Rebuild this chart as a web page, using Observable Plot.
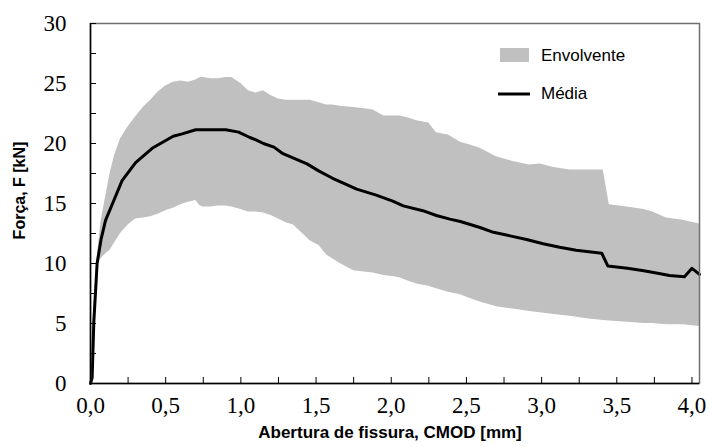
<!DOCTYPE html>
<html><head><meta charset="utf-8">
<script src="https://cdn.jsdelivr.net/npm/d3@7"></script>
<script src="https://cdn.jsdelivr.net/npm/@observablehq/plot@0.6"></script>
<style>body{margin:0;background:#fff} #chart{width:709px;height:447px}</style>
</head><body><div id="chart"></div>
<script>
// Envelope (Envolvente): CMOD [mm], upper and lower force [kN]
const envX = [0, 0.02, 0.044, 0.07, 0.10, 0.13, 0.16, 0.20, 0.25, 0.30, 0.35, 0.40, 0.45, 0.50, 0.55, 0.60, 0.65, 0.70, 0.73, 0.75, 0.80, 0.85, 0.90, 0.94, 1.00, 1.05, 1.10, 1.15, 1.20, 1.25, 1.30, 1.35, 1.41, 1.46, 1.52, 1.57, 1.61, 1.66, 1.75, 1.82, 1.88, 1.95, 2.02, 2.06, 2.12, 2.17, 2.25, 2.30, 2.38, 2.46, 2.52, 2.59, 2.70, 2.81, 2.92, 2.99, 3.08, 3.19, 3.30, 3.41, 3.45, 3.57, 3.68, 3.74, 3.83, 3.94, 4.05];
const envUpper = [0, 6.0, 10.5, 13.5, 15.5, 17.5, 19.0, 20.4, 21.4, 22.2, 23.0, 23.6, 24.3, 24.8, 25.1, 25.2, 25.1, 25.3, 25.5, 25.5, 25.4, 25.4, 25.5, 25.5, 25.0, 24.4, 24.2, 24.4, 24.0, 23.7, 23.6, 23.6, 23.6, 23.6, 23.4, 23.2, 23.2, 23.1, 23.0, 22.9, 22.8, 22.3, 22.3, 22.3, 22.1, 21.9, 21.7, 20.9, 20.7, 20.1, 19.9, 19.6, 18.9, 18.5, 18.2, 18.3, 18.0, 17.8, 17.8, 17.8, 14.9, 14.7, 14.5, 14.3, 13.8, 13.6, 13.3];
const envLower = [0, 4.0, 9.9, 10.4, 10.8, 11.1, 11.7, 12.5, 13.2, 13.7, 13.8, 13.9, 14.1, 14.4, 14.6, 14.9, 15.1, 15.25, 14.8, 14.7, 14.7, 14.8, 14.8, 14.7, 14.5, 14.3, 14.3, 14.2, 14.0, 13.7, 13.4, 13.2, 12.5, 11.9, 11.5, 10.7, 10.4, 10.0, 9.4, 9.3, 9.2, 9.0, 8.9, 8.8, 8.5, 8.3, 8.1, 7.9, 7.6, 7.4, 7.1, 6.8, 6.4, 6.2, 6.0, 5.9, 5.75, 5.6, 5.4, 5.25, 5.2, 5.1, 5.0, 5.0, 4.9, 4.9, 4.75];

// Mean curve (Média)
const meanX = [0, 0.011, 0.022, 0.044, 0.07, 0.10, 0.155, 0.21, 0.30, 0.41, 0.465, 0.55, 0.61, 0.70, 0.80, 0.90, 0.985, 1.06, 1.10, 1.15, 1.22, 1.28, 1.44, 1.52, 1.61, 1.70, 1.77, 1.90, 2.01, 2.08, 2.21, 2.30, 2.39, 2.46, 2.59, 2.68, 2.79, 2.90, 3.01, 3.12, 3.23, 3.40, 3.44, 3.57, 3.68, 3.79, 3.85, 3.95, 4.00, 4.05];
const meanF = [0, 0.5, 5.1, 10.0, 12.0, 13.6, 15.25, 16.9, 18.4, 19.6, 20.0, 20.6, 20.8, 21.15, 21.15, 21.15, 20.95, 20.5, 20.3, 20.0, 19.7, 19.15, 18.3, 17.7, 17.1, 16.6, 16.2, 15.7, 15.2, 14.8, 14.4, 14.0, 13.7, 13.5, 13.0, 12.6, 12.3, 12.0, 11.65, 11.35, 11.1, 10.86, 9.8, 9.6, 9.4, 9.15, 9.0, 8.9, 9.6, 9.1];

const xMajorTicks = [0, 0.5, 1.0, 1.5, 2.0, 2.5, 3.0, 3.5, 4.0];
const xMinorTicks = [0.25, 0.75, 1.25, 1.75, 2.25, 2.75, 3.25, 3.75];
const yMajorTicks = [0, 5, 10, 15, 20, 25, 30];
const yMinorTicks = [2.5, 7.5, 12.5, 17.5, 22.5, 27.5];
const xTitle = "Abertura de fissura, CMOD [mm]";
const yTitle = "Força, F [kN]";
const legendLabels = ["Envolvente", "Média"];

const env = envX.map((x, i) => ({x, lo: envLower[i], hi: envUpper[i]}));
const mean = meanX.map((x, i) => ({x, y: meanF[i]}));
const fmtX = d => d.toFixed(1).replace(".", ",");
const fmtY = d => String(d);
const serif = "Liberation Serif";
const sans = "Liberation Sans";

const plot = Plot.plot({
  width: 709, height: 447,
  marginLeft: 90, marginRight: 10, marginTop: 23, marginBottom: 64,
  x: {domain: [0, 4.05]},
  y: {domain: [0, 30]},
  style: {color: "#000", background: "#fff"},
  marks: [
    Plot.areaY(env, {x: "x", y1: "lo", y2: "hi", fill: "#c0c0c0"}),
    Plot.line(mean, {x: "x", y: "y", stroke: "#000", strokeWidth: 3, strokeLinejoin: "round"}),
    Plot.frame({stroke: "#6f6f6f", strokeWidth: 1.5}),
    Plot.ruleX([0], {stroke: "#000", strokeWidth: 1.5}),
    Plot.ruleY([0], {stroke: "#000", strokeWidth: 1.5}),
    // inward tick marks (major + minor)
    Plot.axisX([...xMajorTicks, ...xMinorTicks], {tickSize: -6, tickFormat: () => "", label: null}),
    Plot.axisY([...yMajorTicks, ...yMinorTicks], {tickSize: -6, tickFormat: () => "", label: null}),
    // serif tick labels placed through the x / y scales
    Plot.text(xMajorTicks, {x: d => d, text: fmtX, frameAnchor: "bottom", dy: 22, fontFamily: serif, fontSize: 23, textAnchor: "middle", lineAnchor: "middle"}),
    Plot.text(yMajorTicks, {y: d => d, text: fmtY, frameAnchor: "left", dx: -24, fontFamily: serif, fontSize: 23, textAnchor: "end", lineAnchor: "middle"}),
    // axis titles
    Plot.text([xTitle], {text: d => d, frameAnchor: "bottom", dy: 54, dx: -5, fontFamily: sans, fontWeight: "bold", fontSize: 17}),
    Plot.text([yTitle], {text: d => d, frameAnchor: "left", dx: -71, dy: -13, rotate: -90, textAnchor: "middle", lineAnchor: "middle", fontFamily: sans, fontWeight: "bold", fontSize: 16})
  ]
});

const svg = d3.select(plot);
// Legend inside the plot area (top right)
const lg = svg.append("g").attr("font-family", sans).attr("font-size", 17).attr("text-anchor", "start");
lg.append("rect").attr("x", 500).attr("y", 48).attr("width", 29).attr("height", 14).attr("fill", "#c0c0c0");
lg.append("text").attr("x", 541).attr("y", 55).attr("dy", "0.35em").text(legendLabels[0]);
lg.append("line").attr("x1", 498).attr("x2", 530).attr("y1", 94).attr("y2", 94).attr("stroke", "#000").attr("stroke-width", 3);
lg.append("text").attr("x", 541).attr("y", 93).attr("dy", "0.35em").text(legendLabels[1]);

document.getElementById("chart").appendChild(plot);
</script>
</body></html>
